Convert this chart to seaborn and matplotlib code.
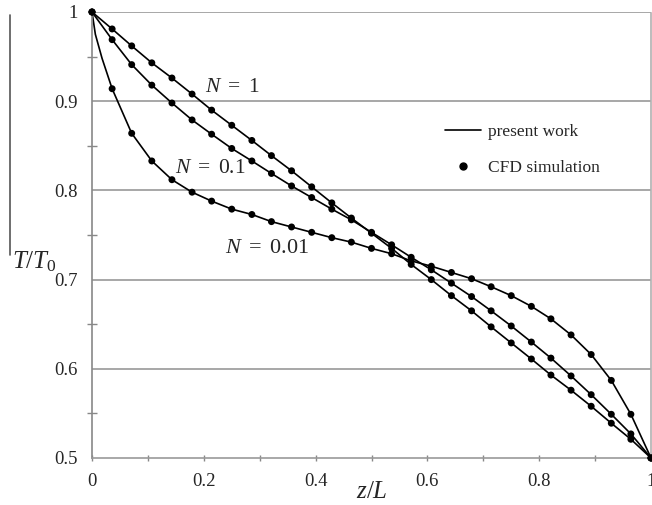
import pandas as pd
import matplotlib.pyplot as plt
import seaborn as sns
from matplotlib.lines import Line2D
from matplotlib.ticker import MultipleLocator

# CFD sample positions along the channel (z/L)
z = [0, 0.036, 0.071, 0.107, 0.143, 0.179, 0.214, 0.25, 0.286, 0.321,
     0.357, 0.393, 0.429, 0.464, 0.5, 0.536, 0.571, 0.607, 0.643, 0.679,
     0.714, 0.75, 0.786, 0.821, 0.857, 0.893, 0.929, 0.964, 1]

# T/T0
t_n1 = [1.0, 0.981, 0.962, 0.943, 0.926, 0.908, 0.890, 0.873, 0.856, 0.839,
        0.822, 0.804, 0.786, 0.769, 0.752, 0.735, 0.717, 0.700, 0.682, 0.665,
        0.647, 0.629, 0.611, 0.593, 0.576, 0.558, 0.539, 0.521, 0.5]
t_n01 = [1.0, 0.969, 0.941, 0.918, 0.898, 0.879, 0.863, 0.847, 0.833, 0.819,
         0.805, 0.792, 0.779, 0.767, 0.753, 0.739, 0.725, 0.711, 0.696, 0.681,
         0.665, 0.648, 0.630, 0.612, 0.592, 0.571, 0.549, 0.527, 0.5]
t_n001 = [1.0, 0.914, 0.864, 0.833, 0.812, 0.798, 0.788, 0.779, 0.773, 0.765,
          0.759, 0.753, 0.747, 0.742, 0.735, 0.729, 0.721, 0.715, 0.708, 0.701,
          0.692, 0.682, 0.670, 0.656, 0.638, 0.616, 0.587, 0.549, 0.5]

# extra points on the N = 0.01 model curve near the inlet, where it bends sharply
z_n001_start = [0.006, 0.018]
t_n001_start = [0.975, 0.948]

labels = ['N = 1', 'N = 0.1', 'N = 0.01']
y_ticks = [0.5, 0.6, 0.7, 0.8, 0.9, 1]
y_tick_labels = ['0.5', '0.6', '0.7', '0.8', '0.9', '1']
x_ticks = [0, 0.2, 0.4, 0.6, 0.8, 1]
x_tick_labels = ['0', '0.2', '0.4', '0.6', '0.8', '1']

# Build tables for seaborn
pts = pd.concat([
    pd.DataFrame({'z': z, 'T': t_n1, 'N': labels[0]}),
    pd.DataFrame({'z': z, 'T': t_n01, 'N': labels[1]}),
    pd.DataFrame({'z': z, 'T': t_n001, 'N': labels[2]}),
])
lines = pd.concat([
    pts,
    pd.DataFrame({'z': z_n001_start, 'T': t_n001_start, 'N': labels[2]}),
]).sort_values(['N', 'z'])

sns.set_style('white')
plt.rcParams['font.family'] = ['Liberation Serif', 'DejaVu Serif']
plt.rcParams['mathtext.fontset'] = 'custom'
plt.rcParams['mathtext.rm'] = 'Liberation Serif'
plt.rcParams['mathtext.it'] = 'Liberation Serif:italic'

fig = plt.figure(figsize=(6.52, 5.05), dpi=100)
ax = fig.add_axes([92 / 652, 47 / 505, 559 / 652, 446 / 505])

black = {lab: 'black' for lab in labels}
sns.lineplot(data=lines, x='z', y='T', hue='N', palette=black, sort=False,
             linewidth=1.2, legend=False, ax=ax)
sns.scatterplot(data=pts, x='z', y='T', hue='N', palette=black, s=25,
                linewidth=0, legend=False, ax=ax, clip_on=False, zorder=3)
for ln in ax.lines:
    ln.set_clip_on(False)

ax.set_xlim(0, 1)
ax.set_ylim(0.5, 1)
ax.set_xlabel('')
ax.set_ylabel('')

# gridlines and axes
for yv in y_ticks[1:]:
    ax.axhline(yv, color='#a0a0a0', linewidth=1.3, zorder=0)
ax.set_yticks(y_ticks)
ax.set_yticklabels(y_tick_labels)
ax.set_xticks(x_ticks)
ax.set_xticklabels(x_tick_labels)
ax.xaxis.set_minor_locator(MultipleLocator(0.1))
ax.yaxis.set_minor_locator(MultipleLocator(0.05))
ax.tick_params(axis='y', which='major', direction='out', length=4, width=1,
               color='#888888', pad=6.5, labelsize=13.5)
ax.tick_params(axis='y', which='minor', direction='inout', length=7, width=1,
               color='#888888', left=True)
ax.tick_params(axis='x', which='both', direction='inout', length=5, width=1,
               color='#888888', pad=8, labelsize=13.5, bottom=True)

ax.spines['top'].set_visible(False)
ax.spines['left'].set_color('#888888')
ax.spines['left'].set_linewidth(1.2)
ax.spines['bottom'].set_color('#999999')
ax.spines['bottom'].set_linewidth(1.2)
ax.spines['right'].set_color('#b0b0b0')
ax.spines['right'].set_linewidth(1.2)
ax.spines['right'].set_linestyle((0, (1, 1)))

# curve labels
ax.text(0.202, 0.915, r'$N\ =\ 1$', fontsize=15.5, va='center')
ax.text(0.148, 0.825, r'$N\ =\ 0.1$', fontsize=15.5, va='center')
ax.text(0.238, 0.735, r'$N\ =\ 0.01$', fontsize=16, va='center')

# legend
handles = [Line2D([], [], color='black', linewidth=1.2),
           Line2D([], [], color='black', marker='o', markersize=5, linestyle='none')]
ax.legend(handles, ['present work', 'CFD simulation'], frameon=False,
          fontsize=12.5, loc='upper left', bbox_to_anchor=(445 / 652, 1 - 124 / 505),
          bbox_transform=fig.transFigure, borderpad=0, borderaxespad=0,
          handlelength=2.1, handletextpad=0.35, labelspacing=1.13)

# axis titles
fig.text(372 / 652, 1 - 492 / 505, '$z/L$', fontsize=18, ha='center', va='center')
fig.text(12 / 652, 1 - 262 / 505, '$T/T_0$', fontsize=18, ha='left', va='center')
fig.add_artist(Line2D([10 / 652, 10 / 652], [1 - 15 / 505, 1 - 255 / 505],
                      color='#555555', linewidth=1.2))

plt.savefig('out.png', dpi=100)
